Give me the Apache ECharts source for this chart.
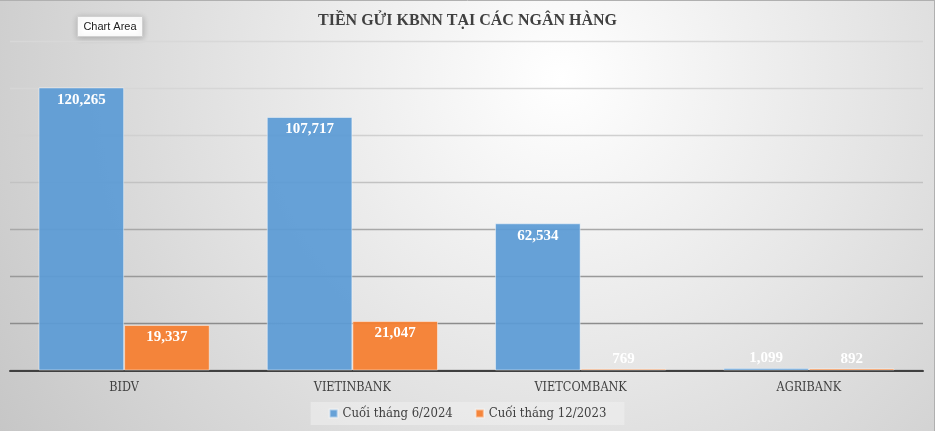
<!DOCTYPE html>
<html>
<head>
<meta charset="utf-8">
<script src="https://cdn.jsdelivr.net/npm/echarts@6/dist/echarts.min.js"></script>
<style>
html,body{margin:0;padding:0;background:#fff;}
#main{width:935px;height:431px;}
</style>
</head>
<body>
<div id="main"></div>
<script>
const titleText = 'TIỀN GỬI KBNN TẠI CÁC NGÂN HÀNG';
const categories = ['BIDV', 'VIETINBANK', 'VIETCOMBANK', 'AGRIBANK'];
const seriesNames = ['Cuối tháng 6/2024', 'Cuối tháng 12/2023'];
const values2024 = [120265, 107717, 62534, 1099];
const values2023 = [19337, 21047, 769, 892];
const colors = ['rgba(91,155,213,0.93)', 'rgba(245,128,50,0.95)'];

const serifFont = '"DejaVu Serif", serif';
const legendFont = '"DejaVu Serif Condensed", "DejaVu Serif", serif';
const boldFont = '"Liberation Serif", "Times New Roman", serif';
const fmt = v => Number(v).toLocaleString('en-US');

function barData(vals) {
  return vals.map(v => ({
    value: v,
    label: v < 5000 ? { position: 'top', distance: 2 } : { position: 'insideTop', distance: 5 }
  }));
}

function makeSeries(name, vals, color) {
  return {
    name: name,
    type: 'bar',
    data: barData(vals),
    barGap: '0%',
    barCategoryGap: '25%',
    itemStyle: { color: color, borderColor: 'rgba(255,255,255,0.45)', borderWidth: 1 },
    label: {
      show: true,
      color: '#ffffff',
      fontFamily: boldFont,
      fontWeight: 'bold',
      fontSize: 15,
      formatter: p => fmt(p.value)
    }
  };
}

const chart = echarts.init(document.getElementById('main'));
chart.setOption({
  backgroundColor: {
    type: 'radial', x: 0.6, y: 0.18, r: 1.55,
    colorStops: [
      { offset: 0, color: '#ffffff' },
      { offset: 0.45, color: '#e6e6e6' },
      { offset: 1, color: '#c6c6c6' }
    ]
  },
  animation: false,
  title: {
    text: titleText,
    left: 'center',
    top: 8,
    textStyle: { fontFamily: boldFont, fontWeight: 'bold', fontSize: 16, color: '#404040' }
  },
  legend: {
    bottom: 6,
    left: 'center',
    data: seriesNames,
    icon: 'rect',
    itemWidth: 8,
    itemHeight: 8,
    itemGap: 22,
    padding: [5, 18, 5, 18],
    backgroundColor: 'rgba(240,240,240,0.55)',
    textStyle: { fontFamily: legendFont, fontSize: 13, color: '#404040' }
  },
  grid: { left: 10, right: 12, top: 41, bottom: 60.5, containLabel: false },
  xAxis: {
    type: 'category',
    data: categories,
    axisLine: { lineStyle: { color: '#404040', width: 2 } },
    axisTick: { show: false },
    axisLabel: { fontFamily: serifFont, fontWeight: 'normal condensed', fontSize: 12.5, color: '#404040', margin: 11 }
  },
  yAxis: {
    type: 'value',
    min: 0,
    max: 140000,
    interval: 20000,
    axisLabel: { show: false },
    axisLine: { show: false },
    axisTick: { show: false },
    splitLine: {
      lineStyle: {
        width: 1.3,
        color: ['#8c8c8c', '#8c8c8c', '#999999', '#a8a8a8', '#c2c2c2', '#d0d0d0', '#d6d6d6', '#d8d8d8']
      }
    }
  },
  series: [
    makeSeries(seriesNames[0], values2024, colors[0]),
    makeSeries(seriesNames[1], values2023, colors[1])
  ],
  graphic: [
    { type: 'line', shape: { x1: 0, y1: 0.5, x2: 935, y2: 0.5 }, style: { stroke: '#b0b0b0', lineWidth: 1 }, silent: true },
    { type: 'line', shape: { x1: 934.5, y1: 0, x2: 934.5, y2: 431 }, style: { stroke: '#b0b0b0', lineWidth: 1 }, silent: true },
    {
      type: 'group', left: 77, top: 16,
      children: [
        { type: 'rect', shape: { x: 0, y: 0, width: 65, height: 20 },
          style: { fill: '#ffffff', stroke: '#d0d0d0', lineWidth: 1, shadowBlur: 6, shadowColor: 'rgba(0,0,0,0.2)', shadowOffsetY: 1 } },
        { type: 'text', x: 32.5, y: 10,
          style: { text: 'Chart Area', fill: '#222222', font: '11px "Liberation Sans", Arial, sans-serif', align: 'center', verticalAlign: 'middle' } }
      ]
    }
  ]
});
</script>
</body>
</html>
